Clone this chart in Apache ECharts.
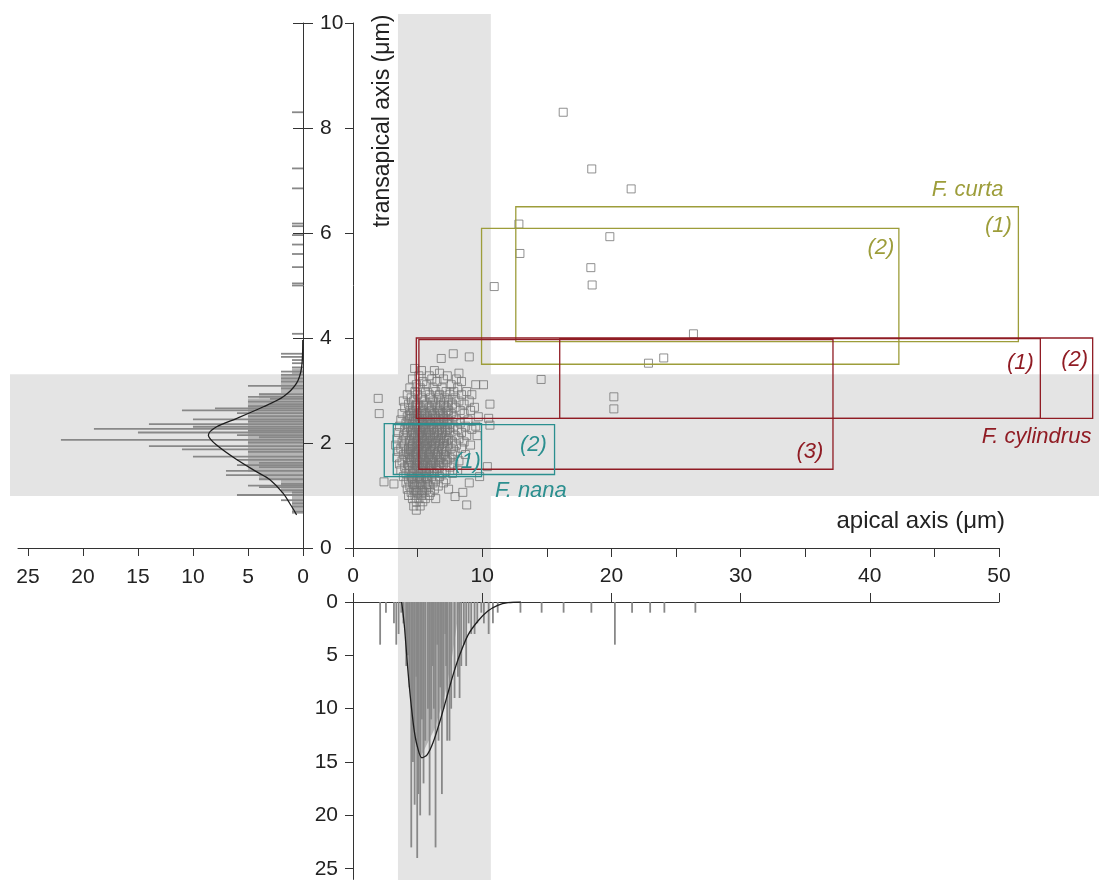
<!DOCTYPE html>
<html>
<head>
<meta charset="utf-8">
<script src="https://cdn.jsdelivr.net/npm/echarts@6/dist/echarts.min.js"></script>
<style>
  html, body { margin: 0; padding: 0; background: #fff; }
  #chart { width: 1099px; height: 880px; }
</style>
</head>
<body>
<div id="chart"></div>
<script>
  // cells: [apical, transapical] in µm
  var cells = [
    // outliers
    [16.27,8.30],[18.48,7.22],[21.53,6.84],[12.84,6.17],[19.88,5.93],[12.92,5.61],
    [18.41,5.34],[18.51,5.01],[10.93,4.98],[26.35,4.08],[24.05,3.62],[22.87,3.52],
    [14.56,3.21],[20.19,2.88],[20.19,2.65],[1.95,2.85],[2.03,2.56],[2.40,1.26],[3.17,1.22],
    [6.83,3.61],[7.76,3.70],[9.00,3.64],[4.77,3.42],
    // cluster
    [5.3,3.38],[6.3,3.38],[6.7,3.33],[8.2,3.33],
    [5.1,3.28],[5.9,3.28],[7.3,3.28],
    [4.6,3.22],[6.1,3.22],[7.0,3.22],[8.0,3.22],
    [5.4,3.17],[6.5,3.17],[8.4,3.17],
    [4.9,3.11],[5.7,3.11],[7.6,3.11],[9.5,3.11],[10.1,3.11],
    [4.4,3.05],[5.2,3.05],[6.2,3.05],[6.9,3.05],[8.1,3.05],
    [4.8,2.98],[5.6,2.98],[6.4,2.98],[7.2,2.98],[7.8,2.98],[8.8,2.98],
    [4.2,2.92],[5.0,2.92],[5.9,2.92],[6.7,2.92],[7.5,2.92],[8.4,2.92],[9.2,2.92],
    [4.5,2.86],[5.3,2.86],[6.0,2.86],[6.6,2.86],[7.1,2.86],[7.9,2.86],
    [3.9,2.80],[4.7,2.80],[5.5,2.80],[6.2,2.80],[6.8,2.80],[7.4,2.80],[8.2,2.80],[9.0,2.80],
    [4.3,2.74],[5.0,2.74],[5.7,2.74],[6.4,2.74],[7.0,2.74],[7.7,2.74],[8.6,2.74],[10.6,2.74],
    [4.0,2.68],[4.6,2.68],[5.2,2.68],[5.9,2.68],[6.5,2.68],[7.2,2.68],[7.9,2.68],[9.4,2.68],
    [4.4,2.62],[4.9,2.62],[5.4,2.62],[6.1,2.62],[6.7,2.62],[7.4,2.62],[8.3,2.62],[9.1,2.62],
    [3.8,2.56],[4.5,2.56],[5.1,2.56],[5.6,2.56],[6.3,2.56],[6.9,2.56],[7.6,2.56],[8.6,2.56],
    [4.2,2.50],[4.7,2.50],[5.3,2.50],[5.8,2.50],[6.4,2.50],[7.0,2.50],[7.8,2.50],[9.7,2.50],[10.5,2.47],
    [3.7,2.44],[4.4,2.44],[5.0,2.44],[5.5,2.44],[6.0,2.44],[6.6,2.44],[7.3,2.44],[8.0,2.44],[8.9,2.44],
    [4.1,2.38],[4.6,2.38],[5.2,2.38],[5.7,2.38],[6.2,2.38],[6.8,2.38],[7.5,2.38],[8.3,2.38],[10.6,2.34],
    [3.6,2.32],[4.3,2.32],[4.9,2.32],[5.4,2.32],[5.9,2.32],[6.5,2.32],[7.1,2.32],[7.8,2.32],[8.7,2.32],[9.5,2.32],
    [4.0,2.26],[4.6,2.26],[5.1,2.26],[5.6,2.26],[6.1,2.26],[6.7,2.26],[7.3,2.26],[8.1,2.26],[9.2,2.26],
    [3.5,2.20],[4.2,2.20],[4.8,2.20],[5.3,2.20],[5.8,2.20],[6.3,2.20],[6.9,2.20],[7.5,2.20],[8.4,2.20],
    [3.9,2.14],[4.5,2.14],[5.0,2.14],[5.5,2.14],[6.0,2.14],[6.6,2.14],[7.2,2.14],[7.9,2.14],[8.8,2.14],[9.6,2.14],
    [3.4,2.08],[4.1,2.08],[4.7,2.08],[5.2,2.08],[5.7,2.08],[6.2,2.08],[6.8,2.08],[7.4,2.08],[8.2,2.08],
    [3.8,2.02],[4.4,2.02],[4.9,2.02],[5.4,2.02],[5.9,2.02],[6.4,2.02],[7.0,2.02],[7.7,2.02],[8.6,2.02],
    [3.3,1.96],[4.0,1.96],[4.6,1.96],[5.1,1.96],[5.6,1.96],[6.1,1.96],[6.7,1.96],[7.3,1.96],[8.0,1.96],[9.1,1.96],
    [3.7,1.90],[4.3,1.90],[4.8,1.90],[5.3,1.90],[5.8,1.90],[6.3,1.90],[6.9,1.90],[7.6,1.90],[8.4,1.90],
    [3.5,1.84],[4.1,1.84],[4.6,1.84],[5.0,1.84],[5.5,1.84],[6.0,1.84],[6.6,1.84],[7.2,1.84],[7.9,1.84],
    [3.9,1.78],[4.4,1.78],[4.9,1.78],[5.4,1.78],[5.9,1.78],[6.4,1.78],[7.0,1.78],[7.7,1.78],[8.7,1.78],
    [3.4,1.72],[4.2,1.72],[4.7,1.72],[5.2,1.72],[5.7,1.72],[6.2,1.72],[6.8,1.72],[7.5,1.72],
    [3.8,1.66],[4.5,1.66],[5.0,1.66],[5.5,1.66],[6.0,1.66],[6.6,1.66],[7.3,1.66],[8.2,1.66],
    [3.6,1.60],[4.3,1.60],[4.8,1.60],[5.3,1.60],[5.8,1.60],[6.4,1.60],[7.0,1.60],[7.8,1.60],
    [4.0,1.54],[4.6,1.54],[5.1,1.54],[5.6,1.54],[6.1,1.54],[6.7,1.54],[7.5,1.54],[10.4,1.55],
    [3.7,1.48],[4.4,1.48],[4.9,1.48],[5.4,1.48],[5.9,1.48],[6.5,1.48],[7.2,1.48],[8.1,1.48],
    [4.1,1.42],[4.7,1.42],[5.2,1.42],[5.7,1.42],[6.3,1.42],[6.9,1.42],[7.7,1.42],
    [3.9,1.36],[4.5,1.36],[5.0,1.36],[5.5,1.36],[6.1,1.36],[6.7,1.36],[9.8,1.36],
    [4.3,1.30],[4.8,1.30],[5.3,1.30],[5.8,1.30],[6.4,1.30],[7.2,1.30],
    [4.1,1.24],[4.6,1.24],[5.1,1.24],[5.6,1.24],[6.2,1.24],[7.0,1.24],[9.0,1.24],
    [4.4,1.18],[4.9,1.18],[5.4,1.18],[5.9,1.18],[6.6,1.18],
    [4.2,1.12],[4.7,1.12],[5.2,1.12],[5.7,1.12],[6.3,1.12],[7.4,1.12],
    [4.5,1.06],[5.0,1.06],[5.5,1.06],[6.0,1.06],[8.5,1.06],
    [4.3,1.00],[4.8,1.00],[5.3,1.00],[5.9,1.00],[7.9,0.98],
    [4.6,0.94],[5.1,0.94],[5.6,0.94],[6.4,0.94],
    [4.9,0.88],[5.4,0.88],[8.8,0.82],
    [4.7,0.80],[5.2,0.80],[4.9,0.72],
    // core, second layer
    [4.7,2.59],[5.3,2.59],[5.95,2.59],[6.6,2.59],[7.2,2.59],
    [4.5,2.47],[5.15,2.47],[5.75,2.47],[6.35,2.47],[7.05,2.47],
    [4.75,2.35],[5.45,2.35],[6.05,2.35],[6.65,2.35],[7.3,2.35],
    [4.55,2.23],[5.2,2.23],[5.85,2.23],[6.55,2.23],[7.15,2.23],
    [4.8,2.11],[5.35,2.11],[5.95,2.11],[6.45,2.11],[7.05,2.11],
    [4.6,1.99],[5.25,1.99],[5.75,1.99],[6.35,1.99],[6.95,1.99],
    [4.45,1.87],[5.1,1.87],[5.7,1.87],[6.2,1.87],[6.85,1.87],
    [4.65,1.75],[5.3,1.75],[5.85,1.75],[6.5,1.75],[7.15,1.75],
    [4.5,1.63],[5.15,1.63],[5.65,1.63],[6.25,1.63],[6.8,1.63],
    [4.8,1.51],[5.35,1.51],[5.9,1.51],[6.45,1.51],
    // core, third layer
    [4.85,2.71],[5.45,2.71],[6.05,2.71],[6.75,2.71],[7.35,2.71],
    [4.35,2.53],[4.95,2.53],[5.55,2.53],[6.15,2.53],[6.75,2.53],[7.35,2.53],
    [4.85,2.41],[5.35,2.41],[5.9,2.41],[6.45,2.41],[7.0,2.41],
    [4.45,2.29],[5.0,2.29],[5.5,2.29],[6.25,2.29],[6.85,2.29],[7.5,2.29],
    [4.65,2.17],[5.15,2.17],[5.7,2.17],[6.3,2.17],[6.85,2.17],
    [4.35,2.05],[5.05,2.05],[5.55,2.05],[6.1,2.05],[6.65,2.05],[7.25,2.05],
    [4.55,1.93],[5.0,1.93],[5.55,1.93],[6.05,1.93],[6.6,1.93],[7.1,1.93],
    [4.3,1.81],[4.85,1.81],[5.4,1.81],[5.95,1.81],[6.55,1.81],
    [4.4,1.69],[4.95,1.69],[5.5,1.69],[6.1,1.69],[6.7,1.69],[7.2,1.69],
    [4.35,1.57],[4.95,1.57],[5.45,1.57],[6.0,1.57],[6.6,1.57],
    [4.6,1.45],[5.1,1.45],[5.65,1.45],[6.2,1.45],
    [4.6,1.33],[5.15,1.33],[5.7,1.33],
    [4.75,1.21],[5.25,1.21],[5.8,1.21],
    [4.9,1.09],[5.35,1.09]
  ];

  // bottom histogram: [apical, count]
  var apicalHist = [
    [2.10,4],[2.55,1],[3.17,2],[3.35,4],[3.53,3],[3.74,1],[3.90,2],[4.12,6],[4.25,5],
    [4.37,8],[4.51,23],[4.64,15],[4.77,19],[4.90,7],[4.97,24],[5.07,18],[5.20,20],
    [5.33,11],[5.46,17],[5.59,13],[5.80,10],[5.93,20],[6.05,11],[6.18,6],[6.26,10],
    [6.39,23],[6.52,4],[6.62,13],[6.75,8],[6.88,18],[7.00,10],[7.14,3],[7.21,6],
    [7.29,13],[7.47,13],[7.60,10],[7.86,9],[8.12,7],[8.25,9],[8.38,6],[8.58,4],
    [8.76,6],[8.95,2],[9.15,3],[9.41,3],[9.62,2],[9.93,1],[10.13,2],[10.50,3],
    [10.83,2],[11.20,1],[12.96,1],[14.60,1],[16.30,1],[18.45,1],[20.27,4],[21.60,1],
    [23.00,1],[24.10,1],[26.50,1]
  ];
  // left histogram: [transapical, count]
  var transHist = [
    [8.30,1],[7.23,1],[6.85,1],[6.18,1],[6.13,1],[5.96,1],[5.78,1],[5.60,1],[5.35,1],
    [5.04,1],[5.00,1],[4.08,1],[3.70,2],[3.64,2],[3.58,1],[3.52,1],[3.44,1],[3.36,2],
    [3.30,2],[3.23,2],[3.17,2],[3.09,5],[3.04,2],[2.93,4],[2.88,5],[2.84,3],[2.79,5],
    [2.74,3],[2.70,5],[2.66,8],[2.62,11],[2.57,6],[2.51,5],[2.45,10],[2.41,5],[2.36,14],
    [2.31,10],[2.27,19],[2.23,5],[2.20,15],[2.15,6],[2.11,4],[2.06,22],[2.01,5],
    [1.94,14],[1.88,11],[1.83,5],[1.74,10],[1.68,6],[1.62,4],[1.58,6],[1.54,4],
    [1.47,7],[1.39,7],[1.31,4],[1.22,2],[1.19,5],[1.16,4],[1.10,2],[1.06,1],[1.01,6],
    [0.91,2],[0.85,1],[0.79,1],[0.69,1]
  ];

  // shaded part of the histograms
  var apicalFill = [[3.73,0],[3.80,1.0],[4.00,2.6],[4.20,5.7],[4.43,8.8],[4.72,11.9],
    [4.97,13.5],[5.28,14.4],[6.31,11.9],[7.09,8.8],[7.60,5.7],[7.99,2.6],[8.25,0]];
  var transFill = [[0.65,1.05,1],[1.05,1.30,2],[1.30,1.45,4],[1.45,2.85,5],
    [2.85,2.95,4],[2.95,3.30,2],[3.30,3.42,1]]; // [from, to, count]

  // fitted curves
  var apicalCurve = [[3.76,0],[3.85,0.8],[4.00,2.56],[4.20,5.7],[4.43,8.8],[4.72,11.9],
    [4.97,13.5],[5.33,14.6],[5.75,14.3],[6.19,13.2],[6.70,11.3],[7.22,9.1],[7.73,6.9],
    [8.25,5.0],[8.90,3.1],[9.67,1.78],[10.44,0.84],[11.20,0.31],[12.00,0.06],[13.00,0]];
  var transCurve = [[0.02,3.96],[0.12,3.45],[0.58,3.14],[1.8,2.88],[3.6,2.69],[6.0,2.47],
    [7.85,2.31],[8.6,2.15],[7.85,1.96],[6.0,1.68],[4.2,1.45],[3.0,1.30],[1.8,1.04],
    [1.03,0.79],[0.58,0.63]];

  // size ranges: [apical from, transapical from, apical to, transapical to]
  var boxTaxon = ['curta','curta','cylindrus','cylindrus','cylindrus','nana','nana'];
  var boxes = [
    [12.6,3.93,51.5,6.50],
    [9.95,3.50,42.25,6.09],
    [16.0,2.47,53.2,3.99],
    [4.9,2.47,57.25,4.00],
    [5.1,1.50,37.15,3.97],
    [2.42,1.36,9.95,2.37],
    [3.12,1.40,15.6,2.35]
  ];

  var noteText = ['F. curta','(1)','(2)','(1)','(2)','(3)','F. cylindrus','(1)','(2)','F. nana'];
  var noteTaxon = ['curta','curta','curta','cylindrus','cylindrus','cylindrus','cylindrus','nana','nana','nana'];
  var notePos = [[50.35,6.82],[51.0,6.13],[41.9,5.71],[52.7,3.52],[56.9,3.58],[36.4,1.83],
    [57.15,2.11],[9.9,1.64],[15.0,1.96],[16.55,1.09]];

  var bandApical = [3.48, 10.67];
  var bandTrans = [0.99, 3.31];

  var FONT = '"Liberation Sans", Arial, sans-serif';
  var AXIS = '#333';
  var BAND = '#e4e4e4';
  var BAR = '#888';
  var FILL = '#b5b5b5';
  var taxonColor = { curta: '#9d9d3a', cylindrus: '#901c24', nana: '#2b8f8f' };

  var myChart = echarts.init(document.getElementById('chart'));

  var lineStyle = { color: AXIS, width: 1 };
  var label = { fontSize: 21, color: '#222', fontFamily: FONT };

  myChart.setOption({
    animation: false,
    grid: [
      { left: 353, top: 23, width: 646, height: 525 },
      { left: 18, top: 23, width: 285, height: 525 },
      { left: 353, top: 602, width: 646, height: 277.4 }
    ],
    xAxis: [
      {
        gridIndex: 0, type: 'value', min: 0, max: 50, interval: 5,
        axisLine: { show: true, onZero: false, lineStyle: lineStyle },
        axisTick: { show: true, length: 9, lineStyle: lineStyle },
        axisLabel: Object.assign({ margin: 18, customValues: [0, 10, 20, 30, 40, 50] }, label),
        splitLine: { show: false }
      },
      {
        gridIndex: 1, type: 'value', inverse: true, min: 0, max: 25.9, interval: 5,
        axisLine: { show: true, onZero: false, lineStyle: lineStyle },
        axisTick: { show: true, length: 8, lineStyle: lineStyle, customValues: [0, 5, 10, 15, 20, 25] },
        axisLabel: Object.assign({ margin: 19, customValues: [0, 5, 10, 15, 20, 25] }, label),
        splitLine: { show: false }
      },
      {
        gridIndex: 2, type: 'value', position: 'top', min: 0, max: 50, interval: 10,
        axisLine: { show: true, onZero: false, lineStyle: lineStyle },
        axisTick: { show: true, length: 9, lineStyle: lineStyle },
        axisLabel: { show: false },
        splitLine: { show: false }
      }
    ],
    yAxis: [
      {
        gridIndex: 0, type: 'value', min: 0, max: 10, interval: 2,
        axisLine: { show: true, onZero: false, lineStyle: lineStyle },
        axisTick: { show: true, length: 8, lineStyle: lineStyle },
        axisLabel: { show: false },
        splitLine: { show: false }
      },
      {
        gridIndex: 1, type: 'value', position: 'right', min: 0, max: 10, interval: 2,
        axisLine: { show: true, onZero: false, lineStyle: lineStyle },
        axisTick: { show: true, length: 10, lineStyle: lineStyle },
        axisLabel: Object.assign({ margin: 17 }, label),
        splitLine: { show: false }
      },
      {
        gridIndex: 1, type: 'value', position: 'right', min: 0, max: 10, interval: 2,
        axisLine: { show: false },
        axisTick: { show: true, inside: true, length: 10, lineStyle: lineStyle },
        axisLabel: { show: false },
        splitLine: { show: false }
      },
      {
        gridIndex: 2, type: 'value', inverse: true, min: 0, max: 26, interval: 5,
        axisLine: { show: true, onZero: false, lineStyle: lineStyle },
        axisTick: { show: true, length: 8, lineStyle: lineStyle, customValues: [0, 5, 10, 15, 20, 25] },
        axisLabel: Object.assign({ margin: 15, customValues: [0, 5, 10, 15, 20, 25] }, label),
        splitLine: { show: false }
      }
    ],
    graphic: [
      {
        type: 'text', x: 1005, y: 521, z: 10,
        style: { text: 'apical axis (\u03bcm)', font: '24px ' + FONT, fill: '#222', align: 'right', verticalAlign: 'middle' }
      },
      {
        type: 'text', x: 383, y: 121, rotation: Math.PI / 2, z: 10,
        style: { text: 'transapical axis (\u03bcm)', font: '23px ' + FONT, fill: '#222', align: 'center', verticalAlign: 'middle' }
      }
    ],
    series: [
      {
        // grey bands
        type: 'custom', xAxisIndex: 0, yAxisIndex: 0, z: -1, silent: true,
        data: [[bandApical[0], bandTrans[0], bandApical[1], bandTrans[1]]],
        renderItem: function (params, api) {
          var a = api.coord([api.value(0), api.value(1)]);
          var b = api.coord([api.value(2), api.value(3)]);
          var w = api.getWidth(), h = api.getHeight();
          return {
            type: 'group', children: [
              { type: 'rect', shape: { x: a[0], y: 14, width: b[0] - a[0], height: h - 14 }, style: { fill: BAND } },
              { type: 'rect', shape: { x: 10, y: b[1], width: w - 10, height: a[1] - b[1] }, style: { fill: BAND } }
            ]
          };
        }
      },
      {
        type: 'custom', xAxisIndex: 1, yAxisIndex: 1, silent: true,
        data: transFill,
        renderItem: function (params, api) {
          var a = api.coord([0, api.value(0)]);
          var b = api.coord([api.value(2), api.value(1)]);
          return { type: 'rect', shape: { x: b[0], y: b[1], width: a[0] - b[0], height: a[1] - b[1] }, style: { fill: FILL } };
        }
      },
      {
        type: 'custom', xAxisIndex: 1, yAxisIndex: 1, silent: true,
        data: transHist, encode: { x: 1, y: 0 },
        renderItem: function (params, api) {
          var base = api.coord([0, api.value(0)]);
          var end = api.coord([api.value(1), api.value(0)]);
          return { type: 'rect', shape: { x: end[0], y: base[1] - 0.9, width: base[0] - end[0], height: 1.8 }, style: { fill: BAR } };
        }
      },
      {
        type: 'line', xAxisIndex: 1, yAxisIndex: 1, data: transCurve,
        showSymbol: false, smooth: 0.3, silent: true,
        lineStyle: { color: '#1e1e1e', width: 1.3 }, z: 5
      },
      {
        type: 'custom', xAxisIndex: 2, yAxisIndex: 3, silent: true,
        data: apicalFill,
        renderItem: function (params, api) {
          if (params.dataIndex !== 0) return;
          var pts = apicalFill.map(function (d) { return api.coord(d); });
          return { type: 'polygon', shape: { points: pts }, style: { fill: FILL } };
        }
      },
      {
        type: 'custom', xAxisIndex: 2, yAxisIndex: 3, silent: true,
        data: apicalHist,
        renderItem: function (params, api) {
          var base = api.coord([api.value(0), 0]);
          var end = api.coord([api.value(0), api.value(1)]);
          return { type: 'rect', shape: { x: base[0] - 0.9, y: base[1], width: 1.8, height: end[1] - base[1] }, style: { fill: BAR } };
        }
      },
      {
        type: 'line', xAxisIndex: 2, yAxisIndex: 3, data: apicalCurve,
        showSymbol: false, smooth: 0.3, silent: true,
        lineStyle: { color: '#1e1e1e', width: 1.3 }, z: 5
      },
      {
        type: 'scatter', xAxisIndex: 0, yAxisIndex: 0, data: cells,
        symbol: 'rect', symbolSize: 8, silent: true,
        itemStyle: { color: 'rgba(255,255,255,0)', borderColor: '#757575', borderWidth: 1 }
      },
      {
        type: 'custom', xAxisIndex: 0, yAxisIndex: 0, silent: true, clip: false, z: 3,
        data: boxes,
        renderItem: function (params, api) {
          var p0 = api.coord([api.value(0), api.value(1)]);
          var p1 = api.coord([api.value(2), api.value(3)]);
          return {
            type: 'rect',
            shape: { x: p0[0], y: p1[1], width: p1[0] - p0[0], height: p0[1] - p1[1] },
            style: { fill: 'none', stroke: taxonColor[boxTaxon[params.dataIndex]], lineWidth: 1.3 }
          };
        }
      },
      {
        type: 'custom', xAxisIndex: 0, yAxisIndex: 0, silent: true, clip: false, z: 4,
        data: notePos,
        renderItem: function (params, api) {
          var i = params.dataIndex;
          var p = api.coord([api.value(0), api.value(1)]);
          return {
            type: 'text', x: p[0], y: p[1],
            style: { text: noteText[i], fill: taxonColor[noteTaxon[i]], font: 'italic 22px ' + FONT, align: 'right', verticalAlign: 'middle' }
          };
        }
      }
    ]
  });
</script>
</body>
</html>
